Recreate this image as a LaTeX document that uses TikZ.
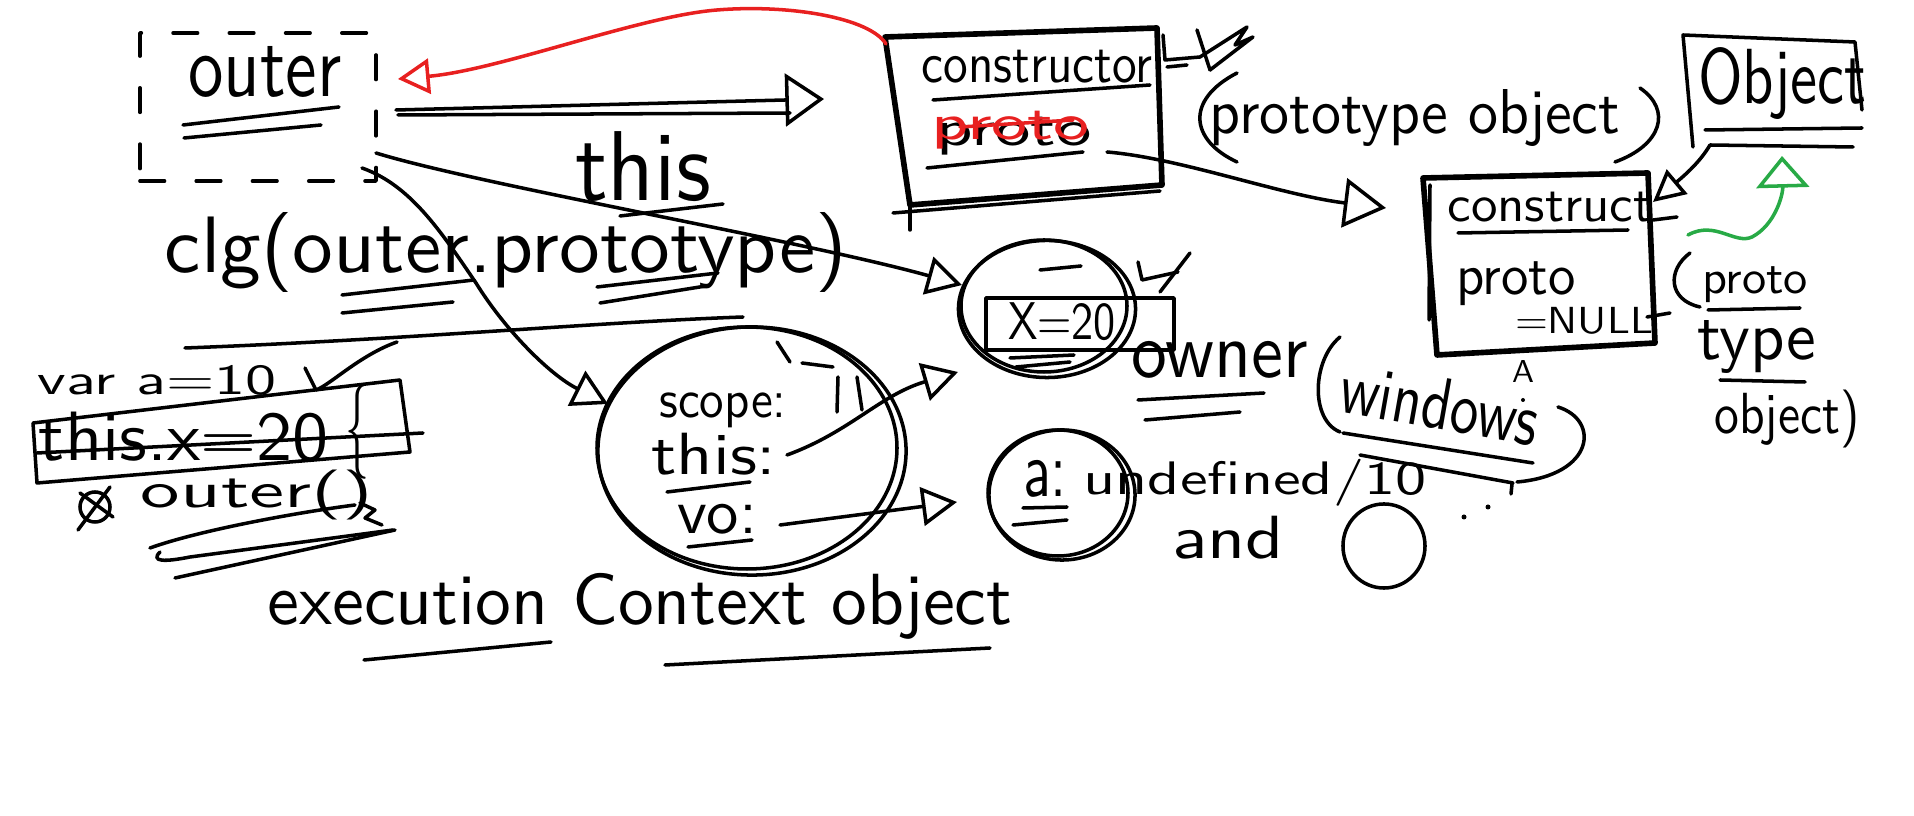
\documentclass[tikz,border=0pt]{standalone}
\usepackage{graphicx}
\usetikzlibrary{arrows.meta,shapes.geometric}
\definecolor{inkred}{RGB}{232,32,32}
\definecolor{inkgreen}{RGB}{40,170,70}
\newlength\hwu \setlength\hwu{0.01cm}
\newcommand\hwtext[3]{\resizebox*{#1\hwu}{#2\hwu}{\sffamily #3}}
\begin{document}
\begin{tikzpicture}[x=0.01cm,y=-0.01cm, line cap=round, line join=round, line width=1pt,
  txt/.style={inner sep=0pt, outer sep=0pt},
  bold/.style={line width=1.6pt},
  oarrow/.style={-{Triangle[open,length=10pt,width=11pt]}}]
\useasboundingbox (0,0) rectangle (1914,816);
\fill[white] (0,0) rectangle (1914,816);

% ---------- outer (dashed) ----------
\node[txt, draw, dash pattern=on 7pt off 9pt, minimum width=2.36cm, minimum height=1.48cm] (outerbox) at (258,107) {};
\node[txt] (outerlbl) at (265,72) {\hwtext{153}{51}{outer}};
\draw (183,125) -- (339,107);
\draw (184,138) -- (321,125);

% ---------- constructor box 1 ----------
\draw[bold] (885,37) -- (1157,28) -- (1162,185) -- (910,205) -- cycle;
\draw (910,205) -- (910,230);
\draw (893,213) -- (1160,191);
\coordinate (c1tl) at (886,44);
\coordinate (c1w) at (824,99);
\node[txt] (ctor1lbl) at (1037,67) {\hwtext{231}{33}{constructor}};
\draw (933,100) -- (1150,85);
\node[txt] (proto1) at (1014,136) {\hwtext{155}{38}{proto}};
\node[txt, text=inkred] (proto1red) at (1011,130) {\hwtext{158}{38}{proto}};
\draw[inkred] (960,127) -- (1073,120);
\draw (927,168) -- (1083,152);
\draw (1163,35) -- (1165,60) -- (1200,57) -- (1247,27) -- (1235,45) -- (1253,37) -- (1210,70);
\draw (1197,30) -- (1210,70);
\draw (1167,67) -- (1187,65);

% red arrow constructor -> outer
\coordinate (redtip) at (398,79);
\draw[inkred, -{Triangle[open,length=9pt,width=10pt]}] (c1tl) .. controls (870,18) and (790,4) .. (717,10) .. controls (640,16) and (500,70) .. (redtip);

% black arrow outer -> constructor
\coordinate (ob1) at (396,110);
\draw[-{Triangle[open,length=11pt,width=15pt]}] (ob1) -- (c1w);
\draw (398,115) -- (790,113);

% ---------- this label ----------
\node[txt] (thislbl) at (643,167) {\hwtext{136}{70}{this}};
\draw (620,216) -- (723,204);

% ---------- clg(outer.prototype) ----------
\node[txt] (clglbl) at (506,253) {\hwtext{682}{80}{clg(outer.prototype)}};
\draw (342,295) -- (474,280);
\draw (342,313) -- (453,302);
\draw (597,287) -- (718,273);
\draw (600,303) -- (706,286);

% ---------- X=20 circle ----------
\node[txt, draw, ellipse, minimum width=1.77cm, minimum height=1.37cm] (xcirc) at (1047,309) {};
\draw (1044,306) ellipse [x radius=83, y radius=66];
\node[txt, draw, minimum width=1.88cm, minimum height=0.52cm] (xrect) at (1080,324) {};
\node[txt] (xlbl) at (1062,322) {\hwtext{108}{38}{X=20}};
\draw (1040,270) -- (1081,266);
\draw (1010,358) -- (1074,355);
\draw (1016,367) -- (1070,362);
\draw (1138,262) -- (1142,280) -- (1178,272);
\draw (1190,253) -- (1160,292);

% outer -> X circle
\coordinate (obse) at (376,153);
\coordinate (xin1) at (962,285);
\draw[oarrow] (obse) .. controls (480,185) and (800,240) .. (xin1);

% ---------- var a=10 / this.x=20 / outer() ----------
\draw (185,348) .. controls (400,340) and (600,322) .. (743,317);
\node[txt] (varlbl) at (157,380) {\hwtext{239}{30}{var a=10}};
\draw (305,368) -- (316,390) .. controls (330,385) and (360,355) .. (397,342);
\draw (33,423) -- (400,380) -- (410,452) -- (37,483) -- cycle;
\node[txt] (thisxlbl) at (184,437) {\hwtext{290}{50}{this.x=20}};
\draw (37,453) -- (423,433);
\node[txt] (brace) at (357,432) {\hwtext{24}{95}{\{}};
\node[txt, draw, circle, minimum size=0.3cm] (otimes) at (95,507) {};
\draw (80,493) -- (113,517);
\draw (110,487) -- (78,530);
\node[txt] (outercall) at (257,495) {\hwtext{232}{50}{outer()}};
\draw (150,548) .. controls (200,530) and (300,512) .. (355,505);
\draw (160,552) .. controls (150,562) and (165,562) .. (190,557) -- (393,530);
\draw (175,578) -- (395,530);
\draw (360,503) -- (375,510) -- (365,518) -- (382,525);

% ---------- execution context circle ----------
\node[txt, draw, ellipse, minimum width=3.08cm, minimum height=2.48cm] (ec) at (752,451) {};
\draw (747,448) ellipse [x radius=150, y radius=121];
\draw (777,342) -- (790,362);
\draw (802,363) -- (833,367);
\draw (838,377) -- (837,412);
\draw (857,377) -- (862,410);
\node[txt] (scopelbl) at (723,410) {\hwtext{127}{35}{scope:}};
\node[txt] (thisc) at (714,454) {\hwtext{125}{42}{this:}};
\draw (667,492) -- (750,482);
\node[txt] (volbl) at (717,519) {\hwtext{80}{30}{vo:}};
\draw (688,547) -- (752,540);

% outer -> exec circle
\coordinate (obs) at (362,168);
\coordinate (ecin) at (608,404);
\draw[oarrow] (obs) .. controls (410,185) and (440,230) .. (476,283) .. controls (505,330) and (550,375) .. (ecin);

% this: -> X circle, vo: -> a circle
\coordinate (thisout) at (787,455);
\coordinate (xin2) at (958,372);
\draw[oarrow] (thisout) .. controls (850,432) and (880,395) .. (xin2);
\coordinate (voout) at (780,525);
\coordinate (ain) at (957,502);
\draw[oarrow] (voout) -- (ain);

\node[txt] (eclbl) at (640,606) {\hwtext{745}{66}{execution Context object}};
\draw (364,660) -- (551,642);
\draw (665,665) -- (990,648);

% ---------- a circle ----------
\node[txt, draw, ellipse, minimum width=1.46cm, minimum height=1.30cm] (acirc) at (1062,495) {};
\draw (1058,493) ellipse [x radius=70, y radius=63];
\node[txt] (albl) at (1045,479) {\hwtext{44}{37}{a:}};
\draw (1023,508) -- (1067,507);
\draw (1013,525) -- (1067,520);
\node[txt] (undef) at (1255,483) {\hwtext{343}{47}{undefined/10}};
\node[txt] (andlbl) at (1228,538) {\hwtext{112}{43}{and}};
\node[txt, draw, ellipse, minimum width=0.82cm, minimum height=0.84cm] (zero) at (1384,546) {};
\fill (1464,517) circle (2.5);
\fill (1488,507) circle (2.5);

% ---------- owner (windows) ----------
\node[txt] (ownerlbl) at (1220,360) {\hwtext{176}{37}{owner}};
\draw (1138,400) -- (1264,393);
\draw (1145,420) -- (1240,412);
\draw (1340,337) .. controls (1312,360) and (1310,420) .. (1340,432);
\node[txt, rotate=-10] (winlbl) at (1440,404) {\hwtext{200}{52}{windows}};
\draw (1558,407) .. controls (1600,420) and (1595,475) .. (1517,482);
\draw (1343,433) -- (1533,463);
\draw (1360,455) -- (1513,483);
\draw (1512,484) -- (1511,494);

% ---------- prototype object ----------
\coordinate (p1out) at (1107,152);
\coordinate (c2in) at (1386,208);
\draw[-{Triangle[open,length=12pt,width=14pt]}] (p1out) .. controls (1180,158) and (1280,195) .. (c2in);
\draw (1237,73) .. controls (1185,100) and (1190,140) .. (1237,162);
\node[txt] (protoobj) at (1415,118) {\hwtext{410}{57}{prototype object}};
\draw (1640,88) .. controls (1672,110) and (1662,145) .. (1615,162);

% ---------- constructor box 2 ----------
\draw[bold] (1423,178) -- (1648,173) -- (1655,343) -- (1437,355) -- cycle;
\draw (1430,185) -- (1429,320);
\node[txt] (ctor2lbl) at (1550,207) {\hwtext{205}{30}{construct}};
\draw (1458,233) -- (1628,230);
\draw (1653,220) -- (1677,217);
\node[txt] (proto2) at (1516,284) {\hwtext{120}{44}{proto}};
\node[txt] (nulllbl) at (1584,321) {\hwtext{138}{27}{=NULL}};
\draw (1647,317) -- (1670,313);
\node[txt] (caret) at (1523,372) {\hwtext{22}{22}{A}};
\fill (1523,400) circle (2);

% ---------- Object box ----------
\draw (1693,147) -- (1683,35) -- (1855,42) -- (1862,110);
\node[txt] (objlbl) at (1782,84) {\hwtext{168}{72}{Object}};
\draw (1705,130) -- (1862,128);
\draw (1710,145) -- (1853,147);
\coordinate (objbl) at (1710,145);
\coordinate (c2tr) at (1653,202);
\draw[-{Triangle[open,length=9pt,width=9pt]}] (objbl) .. controls (1700,162) and (1685,175) .. (c2tr);

% green arrow
\coordinate (g0) at (1688,235);
\coordinate (gtip) at (1782,156);
\draw[inkgreen, -{Triangle[open,length=9pt,width=15pt]}] (g0) .. controls (1715,220) and (1735,245) .. (1752,237) .. controls (1775,225) and (1783,195) .. (gtip);

% ---------- (prototype object) right ----------
\draw (1690,253) .. controls (1667,270) and (1668,300) .. (1700,307);
\node[txt] (rproto) at (1755,285) {\hwtext{106}{36}{proto}};
\draw (1708,310) -- (1800,308);
\node[txt] (rtype) at (1757,347) {\hwtext{119}{53}{type}};
\draw (1720,380) -- (1805,382);
\node[txt] (robj) at (1787,419) {\hwtext{145}{58}{object)}};
\end{tikzpicture}
\end{document}
